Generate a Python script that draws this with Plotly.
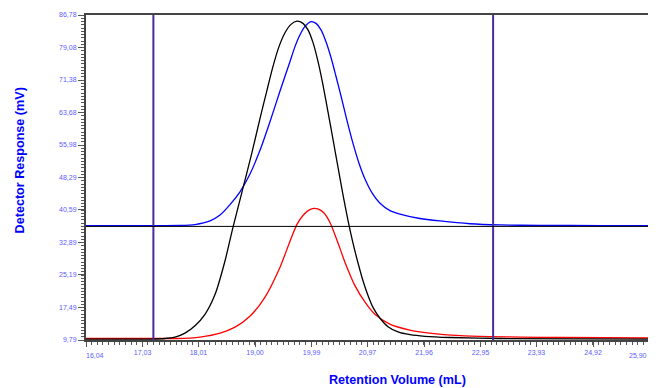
import plotly.graph_objects as go

# ---- data ----
x_ticks = [16.04, 17.03, 18.01, 19.00, 19.99, 20.97, 21.96, 22.95, 23.93, 24.92, 25.90]
y_ticks = [9.79, 17.49, 25.19, 32.89, 40.59, 48.29, 55.98, 63.68, 71.38, 79.08, 86.78]
x_ticktext = ["", "17,03", "18,01", "19,00", "19,99", "20,97", "21,96", "22,95", "23,93", "24,92", ""]
x_edge_labels = ["16,04", "25,90"]
y_ticktext = ["9,79", "17,49", "25,19", "32,89", "40,59", "48,29", "55,98", "63,68", "71,38", "79,08", "86,78"]

black_x = [16.04, 17.161, 17.424, 17.599, 17.774, 17.949, 18.124, 18.299, 18.474, 18.614, 18.790,
           18.947, 19.087, 19.210, 19.315, 19.420, 19.525, 19.630, 19.735, 19.840, 19.928, 20.016,
           20.103, 20.191, 20.278, 20.366, 20.453, 20.541, 20.628, 20.716, 20.804, 20.891, 20.979,
           21.066, 21.189, 21.329, 21.504, 21.714, 21.977, 22.415, 23.290, 25.90]
black_y = [10.02, 10.02, 10.14, 10.49, 11.43, 13.18, 15.87, 20.55, 28.51, 36.47, 45.83,
           54.25, 62.21, 69.00, 74.61, 79.29, 82.57, 84.56, 85.31, 84.79, 83.27, 80.23,
           75.78, 70.17, 63.85, 57.29, 50.74, 44.19, 38.10, 32.72, 28.04, 23.83, 20.32,
           17.51, 14.94, 12.95, 11.71, 11.05, 10.66, 10.38, 10.14, 10.02]

blue_x = [16.04, 17.161, 17.686, 17.949, 18.212, 18.387, 18.562, 18.737, 18.912, 19.087, 19.262,
          19.438, 19.613, 19.700, 19.788, 19.875, 19.981, 20.068, 20.156, 20.243, 20.331, 20.418,
          20.506, 20.611, 20.716, 20.821, 20.926, 21.049, 21.189, 21.364, 21.539, 21.889, 22.240,
          22.765, 23.290, 23.991, 25.042, 25.90]
blue_y = [36.87, 36.87, 36.91, 37.12, 37.99, 39.39, 41.85, 44.89, 49.10, 54.72, 61.51,
          68.76, 75.78, 79.29, 82.10, 84.09, 85.21, 84.79, 83.27, 80.46, 76.72, 72.27,
          67.59, 61.74, 56.36, 51.68, 47.93, 44.66, 42.20, 40.45, 39.63, 38.57, 37.99,
          37.33, 37.05, 36.94, 36.89, 36.87]

red_x = [16.04, 17.16, 17.77, 18.04, 18.39, 18.65, 18.91, 19.17, 19.44, 19.613, 19.735, 19.840,
         19.945, 20.033, 20.121, 20.208, 20.313, 20.436, 20.58, 20.75, 20.93, 21.10, 21.36, 21.71,
         22.06, 22.59, 23.115, 23.64, 24.34, 25.90]
red_y = [10.14, 10.14, 10.19, 10.49, 11.43, 12.83, 15.41, 19.85, 27.11, 33.19, 37.17, 39.28,
         40.56, 40.98, 40.73, 39.86, 37.64, 33.43, 28.04, 22.66, 18.68, 15.87, 13.53, 12.13,
         11.43, 10.84, 10.61, 10.49, 10.38, 10.26]

marker_x = [17.22, 23.17]      # vertical integration limits
baseline_y = [36.70]           # horizontal baseline

fig = go.Figure()
fig.add_trace(go.Scatter(x=red_x, y=red_y, mode="lines", line=dict(color="#ff0000", width=1.3, shape="spline", smoothing=0.7)))
fig.add_trace(go.Scatter(x=blue_x, y=blue_y, mode="lines", line=dict(color="#0000ff", width=1.3, shape="spline", smoothing=0.7)))
fig.add_trace(go.Scatter(x=black_x, y=black_y, mode="lines", line=dict(color="#000000", width=1.3, shape="spline", smoothing=0.7)))

for mx in marker_x:
    fig.add_shape(type="line", xref="x", yref="paper", x0=mx, x1=mx, y0=0, y1=1,
                  line=dict(color="#4b2c9b", width=2))
for by in baseline_y:
    fig.add_shape(type="line", xref="paper", yref="y", x0=0, x1=1, y0=by, y1=by,
                  line=dict(color="#000000", width=1))

tickfont = dict(family="Liberation Sans, Arial", size=7, color="#5b5bff")

fig.update_xaxes(range=[16.04, 25.90], tickvals=x_ticks, ticktext=x_ticktext, tickfont=tickfont,
                 ticks="outside", ticklen=5, tickcolor="#555", tickwidth=1,
                 minor=dict(dtick=0.0986, tick0=16.04, ticks="outside", ticklen=2.5, tickcolor="#555"),
                 showgrid=False, zeroline=False, showline=True, linecolor="#444", linewidth=2, mirror=True)
fig.update_yaxes(range=[9.79, 86.78], tickvals=y_ticks, ticktext=y_ticktext, tickfont=tickfont,
                 ticks="outside", ticklen=6, tickcolor="#555", tickwidth=1,
                 minor=dict(dtick=0.7699, tick0=9.79, ticks="outside", ticklen=3, tickcolor="#555"),
                 showgrid=False, zeroline=False, showline=True, linecolor="#444", linewidth=2, mirror=True)

# edge tick labels, nudged inward as in the reference
fig.add_annotation(text=x_edge_labels[0], xref="x", yref="paper", x=x_ticks[0], y=0, xshift=9, yshift=-15,
                   showarrow=False, font=tickfont, xanchor="center", yanchor="middle")
fig.add_annotation(text=x_edge_labels[1], xref="x", yref="paper", x=x_ticks[-1], y=0, xshift=-11, yshift=-15,
                   showarrow=False, font=tickfont, xanchor="center", yanchor="middle")

fig.add_annotation(text="<b>Retention Volume (mL)</b>", xref="paper", yref="paper", x=0.554, y=-0.1216,
                   xanchor="center", yanchor="middle", showarrow=False,
                   font=dict(family="Liberation Sans, Arial", size=12.6, color="#0000ff"))
fig.add_annotation(text="<b>Detector Response (mV)</b>", xref="paper", yref="paper", x=-0.117, y=0.553,
                   xanchor="center", yanchor="middle", showarrow=False, textangle=-90,
                   font=dict(family="Liberation Sans, Arial", size=12.6, color="#0000ff"))

# page body has an 8px margin: figure is sized/offset so the plot area lands where the reference has it
fig.update_layout(width=648, height=380, margin=dict(l=78, r=7, t=3, b=48),
                  plot_bgcolor="white", paper_bgcolor="white", showlegend=False)

fig.write_html("out.html")
